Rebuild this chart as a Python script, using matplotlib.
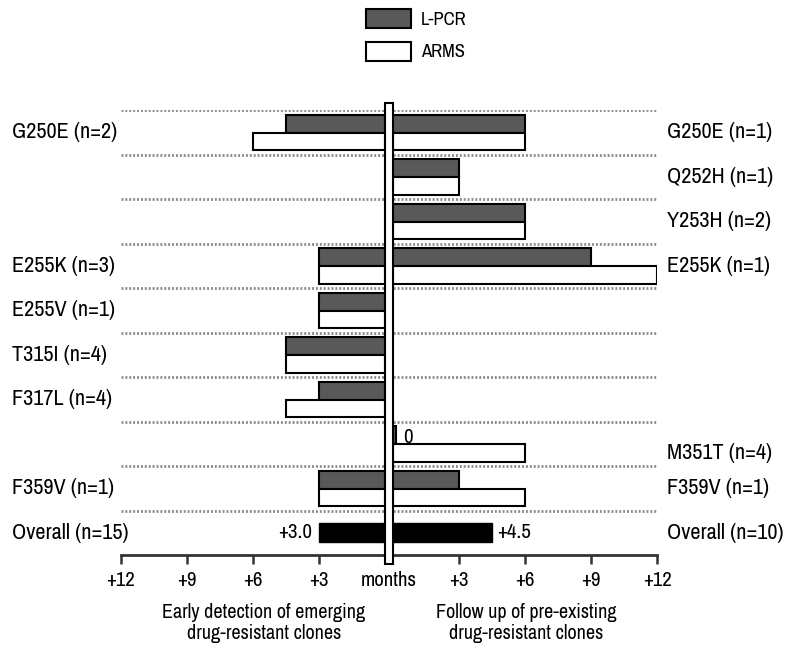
from matplotlib import pyplot as plt
from matplotlib import font_manager
from matplotlib.font_manager import FontProperties
from matplotlib.textpath import TextPath
from matplotlib.patches import Rectangle, Patch
import matplotlib.transforms as transforms
import numpy as np
import os

# pick a narrow font if one is around, the reference uses a condensed sans
family, stretch = 'Liberation Sans', 'normal'
for f in font_manager.fontManager.ttflist:
    base = os.path.basename(f.fname)
    if 'Narrow' in f.name or 'Condensed' in f.name:
        family, stretch = f.name, 'normal'
        break
    if 'Condensed' in base and 'Bold' not in base and 'Oblique' not in base and 'Italic' not in base:
        family, stretch = f.name, 'condensed'
plt.rcParams['font.family'] = [family, 'DejaVu Sans']
plt.rcParams['font.stretch'] = stretch

# scale sizes so the row labels come out as wide as in the reference (~105 px)
w100 = TextPath((0, 0), 'G250E (n=2)', size=100,
                prop=FontProperties(family=family, stretch=stretch)).get_extents().width
k = min(1.0, (105 * 72 / w100) / 16)

# data (months)
mutations = ['G250E', 'Q252H', 'Y253H', 'E255K', 'E255V', 'T315I', 'F317L', 'M351T', 'F359V']
early_lpcr = [4.5, np.nan, np.nan, 3, 3, 4.5, 3, np.nan, 3]
early_arms = [6, np.nan, np.nan, 3, 3, 4.5, 4.5, np.nan, 3]
follow_lpcr = [6, 3, 6, 9, np.nan, np.nan, np.nan, 0, 3]
follow_arms = [6, 3, 6, 12, np.nan, np.nan, np.nan, 6, 6]
overall_early = 3.0
overall_follow = 4.5
left_labels = ['G250E (n=2)', '', '', 'E255K (n=3)', 'E255V (n=1)', 'T315I (n=4)',
               'F317L (n=4)', '', 'F359V (n=1)', 'Overall (n=15)']
right_labels = ['G250E (n=1)', 'Q252H (n=1)', 'Y253H (n=2)', 'E255K (n=1)', '', '', '',
                'M351T (n=4)', 'F359V (n=1)', 'Overall (n=10)']
tick_months = [12, 9, 6, 3]

dark = '#595959'
g = 0.18          # half width of the centre bar
bh = 0.4          # bar height
zero_w = 0.15     # drawn width for a zero value

fig = plt.figure(figsize=(7.87, 6.54), dpi=100)
ax = fig.add_axes([121 / 787, (654 - 555) / 654, 536 / 787, 445 / 654])
ax.set_xlim(-12 - g, 12 + g)
ax.set_ylim(10, 0)

n = len(mutations)
y = np.arange(n)

# dotted separators
ax.hlines(np.arange(n + 1), -12 - g, 12 + g, colors='#8a8a8a',
          linestyles=(0, (0.7, 0.7)), lw=2, zorder=0)

# left side (early detection)
el = np.array(early_lpcr, dtype=float)
ea = np.array(early_arms, dtype=float)
ax.barh(y + 0.31, -el, left=-g, height=bh, color=dark, edgecolor='black', lw=1.5, zorder=2)
ax.barh(y + 0.71, -ea, left=-g, height=bh, color='white', edgecolor='black', lw=1.5, zorder=2)

# right side (follow up)
fl = np.array(follow_lpcr, dtype=float)
fa = np.array(follow_arms, dtype=float)
fl_draw = np.where(fl == 0, zero_w, fl)
ax.barh(y + 0.31, fl_draw, left=g, height=bh, color=dark, edgecolor='black', lw=1.5, zorder=2)
ax.barh(y + 0.71, fa, left=g, height=bh, color='white', edgecolor='black', lw=1.5, zorder=2)
for i in range(n):
    if fl[i] == 0:
        ax.text(g + zero_w + 0.3, i + 0.36, '0', fontsize=15 * k, ha='left', va='center')

# overall
ax.barh(n + 0.49, -overall_early, left=-g, height=0.43, color='black', edgecolor='black', zorder=2)
ax.barh(n + 0.49, overall_follow, left=g, height=0.43, color='black', edgecolor='black', zorder=2)
ax.text(-g - overall_early - 0.3, n + 0.5, '+%.1f' % overall_early, fontsize=15 * k,
        ha='right', va='center')
ax.text(g + overall_follow + 0.25, n + 0.5, '+%.1f' % overall_follow, fontsize=15 * k,
        ha='left', va='center')

# centre bar
ax.add_patch(Rectangle((-g, -0.16), 2 * g, 10.36, facecolor='white', edgecolor='black',
                       lw=1.5, clip_on=False, zorder=5))

# row labels
trans = transforms.blended_transform_factory(fig.transFigure, ax.transData)
for i in range(n + 1):
    if left_labels[i]:
        ax.text(12 / 787, i + 0.5, left_labels[i], transform=trans, fontsize=16 * k,
                ha='left', va='center')
    if right_labels[i]:
        yy = i + 0.5
        if i < n and fl[i] == 0:
            yy = i + 0.71
        ax.text(667 / 787, yy, right_labels[i], transform=trans, fontsize=16 * k,
                ha='left', va='center')

# axis
ticks = [-(g + m) for m in tick_months] + [0] + [g + m for m in tick_months[::-1]]
labels = ['+%d' % m for m in tick_months] + ['months'] + ['+%d' % m for m in tick_months[::-1]]
ax.set_xticks(ticks)
ax.set_xticklabels(labels, fontsize=15 * k)
ax.tick_params(axis='x', direction='out', length=6.5, width=1.8, pad=5, color='#333333')
ax.xaxis.get_major_ticks()[4].tick1line.set_visible(False)
ax.set_yticks([])
for s in ['top', 'left', 'right']:
    ax.spines[s].set_visible(False)
ax.spines['bottom'].set_linewidth(2)
ax.spines['bottom'].set_color('#333333')

# bottom captions
fig.text(264 / 787, 1 - 623 / 654, 'Early detection of emerging\ndrug-resistant clones',
         ha='center', va='center', fontsize=14.5 * k, linespacing=1.1)
fig.text(526 / 787, 1 - 623 / 654, 'Follow up of pre-existing\ndrug-resistant clones',
         ha='center', va='center', fontsize=14.5 * k, linespacing=1.1)

# legend
handles = [Patch(facecolor=dark, edgecolor='black', lw=1.5),
           Patch(facecolor='white', edgecolor='black', lw=1.5)]
fig.legend(handles, ['L-PCR', 'ARMS'], loc='upper left', bbox_to_anchor=(366 / 787, 1 - 9 / 654),
           frameon=False, borderpad=0, borderaxespad=0, handlelength=2.4 / k, handleheight=1.2 / k,
           labelspacing=0.73 / k, handletextpad=0.55 / k, fontsize=13.4 * k)

plt.savefig('out.png', dpi=100)
